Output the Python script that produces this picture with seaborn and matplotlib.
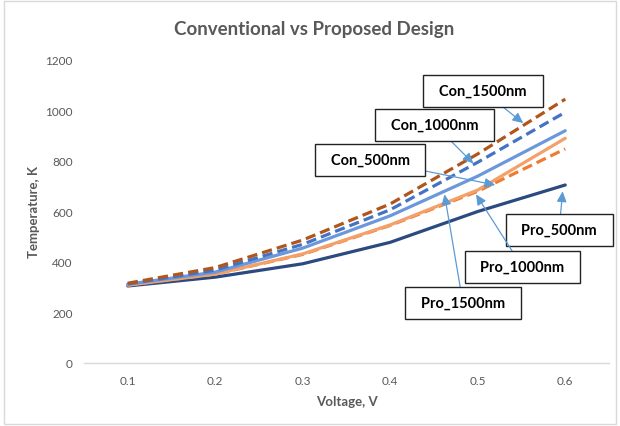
import matplotlib
matplotlib.use("Agg")
import matplotlib.pyplot as plt
import seaborn as sns
import pandas as pd
from matplotlib.patches import Rectangle

# ---- data ----
voltages = ["0.1", "0.2", "0.3", "0.4", "0.5", "0.6"]
con_1500 = [316, 378, 487, 630, 828, 1045]
con_1000 = [313, 368, 470, 607, 795, 993]
con_500 = [309, 352, 430, 545, 680, 848]
pro_1500 = [312, 360, 455, 583, 740, 920]
pro_1000 = [308, 352, 432, 547, 685, 890]
pro_500 = [305, 340, 393, 478, 600, 705]
y_ticks = [0, 200, 400, 600, 800, 1000, 1200]

series = [
    ("Pro_500nm", pro_500, "#2B4A80", "-"),
    ("Con_500nm", con_500, "#ED7D31", "--"),
    ("Pro_1000nm", pro_1000, "#F4A06A", "-"),
    ("Pro_1500nm", pro_1500, "#6A98DA", "-"),
    ("Con_1000nm", con_1000, "#4472C4", "--"),
    ("Con_1500nm", con_1500, "#B0561B", "--"),
]

sns.set_theme(style="white")
plt.rcParams["font.family"] = ["Lato", "DejaVu Sans"]

fig = plt.figure(figsize=(6.2, 4.27), dpi=100)
W, H = 620, 427
left, right, bottom, top = 84, 609, 364, 61
ax = fig.add_axes([left / W, 1 - bottom / H, (right - left) / W, (bottom - top) / H])

pos = list(range(len(voltages)))
for name, vals, color, ls in series:
    df = pd.DataFrame({"x": pos, "y": vals})
    sns.lineplot(data=df, x="x", y="y", ax=ax, color=color, linewidth=2.3)
    if ls == "--":
        ax.lines[-1].set_dashes((3.2, 1.6))

ax.set_xlim(-0.5, len(voltages) - 0.5)
ax.set_ylim(0, 1200)
ax.set_xticks(pos)
ax.set_xticklabels(voltages)
ax.set_yticks(y_ticks)
ax.set_yticklabels([str(t) for t in y_ticks])
ax.tick_params(axis="both", colors="#595959", labelsize=8.5, length=0, pad=8)
ax.tick_params(axis="x", pad=9)
for sp in ["top", "right", "left"]:
    ax.spines[sp].set_visible(False)
ax.spines["bottom"].set_color("#D9D9D9")
ax.spines["bottom"].set_linewidth(1.0)
# minor ticks between categories (Excel style)
ax.set_xticks([p - 0.5 for p in pos] + [len(voltages) - 0.5], minor=True)
ax.tick_params(axis="x", which="minor", length=4, color="#D9D9D9", width=1, direction="out")
ax.grid(False)

ax.set_xlabel("Voltage, V", fontsize=9.5, fontweight="bold", color="#595959", labelpad=6)
ax.set_ylabel("Temperature, K", fontsize=9.5, fontweight="bold", color="#595959", labelpad=4)

fig.text(0.507, 1 - 30 / H, "Conventional vs Proposed Design", ha="center", va="center",
         fontsize=13.5, fontweight="bold", color="#595959")

# annotations: (label, text center (data), arrow tip (data))
annots = [
    ("Con_1500nm", (4.06, 1077), (4.52, 950)),
    ("Con_1000nm", (3.51, 943), (3.95, 790)),
    ("Con_500nm", (2.77, 804), (4.20, 705)),
    ("Pro_500nm", (4.93, 527), (4.97, 680)),
    ("Pro_1000nm", (4.51, 380), (3.98, 668)),
    ("Pro_1500nm", (3.83, 238), (3.62, 668)),
]
for label, txy, tip in annots:
    ax.annotate("  " + label + "  ", xy=tip, xytext=txy, textcoords="data",
                ha="center", va="center", fontsize=10.5, fontweight="bold", color="black",
                bbox=dict(boxstyle="square,pad=0.6", fc="white", ec="#222222", lw=1.0),
                arrowprops=dict(arrowstyle="-|>,head_length=0.6,head_width=0.28",
                                color="#5B9BD5", lw=0.9, shrinkA=0, shrinkB=0),
                zorder=5, annotation_clip=False)

# chart border
fig.patches.append(Rectangle((4 / W, 2 / H), (W - 8) / W, (H - 4) / H, transform=fig.transFigure,
                             fill=False, ec="#D9D9D9", lw=1.0))

fig.savefig("out.png", dpi=100)
